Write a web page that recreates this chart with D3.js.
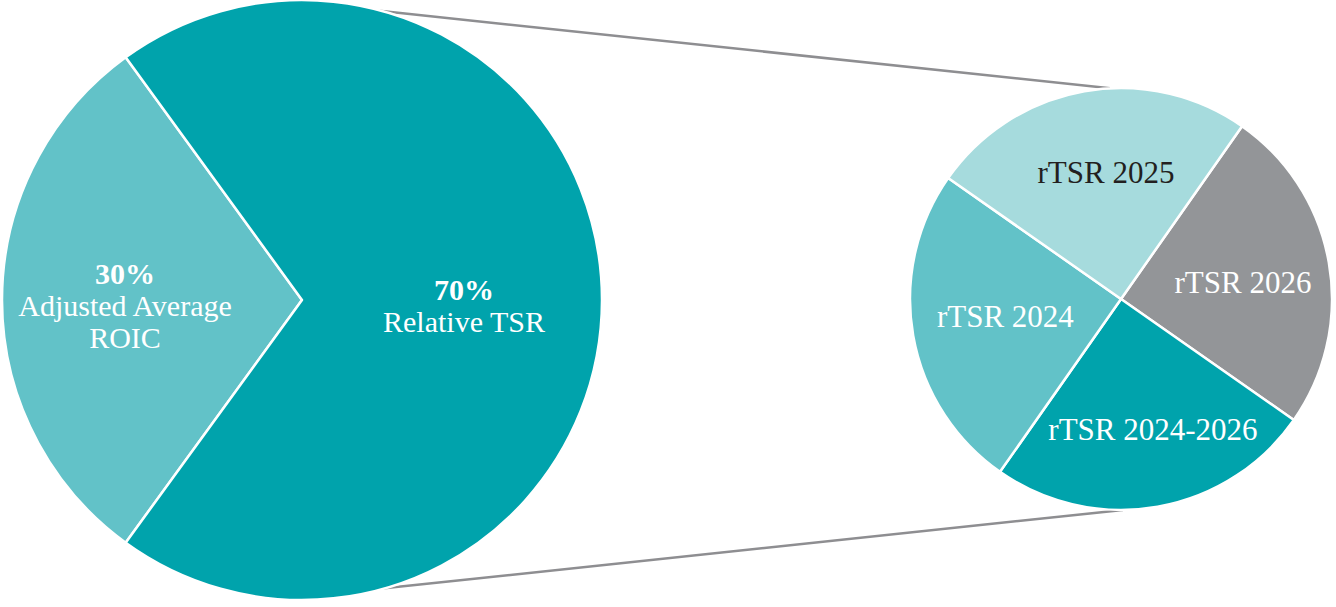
<!DOCTYPE html>
<html>
<head>
<meta charset="utf-8">
<script src="https://cdn.jsdelivr.net/npm/d3@7"></script>
<style>
  html, body { margin: 0; padding: 0; background: #fff; }
  svg { display: block; }
  text { font-family: "Liberation Serif", "DejaVu Serif", serif; }
</style>
</head>
<body>
<svg id="chart" width="1336" height="607"></svg>
<script>
// ---- Data ----
const mainCategories = ["Adjusted Average ROIC", "Relative TSR"];
const mainValues = [30, 70];
const mainLabelLines = [["30%", "Adjusted Average", "ROIC"], ["70%", "Relative TSR"]];

const subCategories = ["rTSR 2026", "rTSR 2024-2026", "rTSR 2024", "rTSR 2025"];
const subValues = [25, 25, 25, 25];

// ---- Styles ----
const mainColors = ["#62c2c8", "#00a3ac"];
const subColors = ["#939598", "#00a3ac", "#62c2c8", "#a6dbdd"];
const subTextColors = ["#ffffff", "#ffffff", "#ffffff", "#231f20"];

const svg = d3.select("#chart");
const deg = Math.PI / 180;

const big = { cx: 302, cy: 300, r: 300 };
const small = { cx: 1121, cy: 299, r: 211 };

function pt(c, angleDeg, r) {
  const a = angleDeg * deg;
  return [c.cx + Math.sin(a) * r, c.cy - Math.cos(a) * r];
}
const connectors = [
  [pt(big, 14.5, big.r - 1), pt(small, -3, small.r)],
  [pt(big, 165, big.r - 1), pt(small, 179.5, small.r)]
];
svg.append("g").selectAll("line").data(connectors).join("line")
  .attr("x1", d => d[0][0]).attr("y1", d => d[0][1])
  .attr("x2", d => d[1][0]).attr("y2", d => d[1][1])
  .attr("stroke", "#8e8e91").attr("stroke-width", 2.5);

// Big pie
const bigStart = -90 * deg - (mainValues[0] / 100) * Math.PI;
const bigPie = d3.pie().sort(null).startAngle(bigStart).endAngle(bigStart + 2 * Math.PI);
const bigArc = d3.arc().innerRadius(0).outerRadius(big.r);
const bigG = svg.append("g").attr("transform", `translate(${big.cx},${big.cy})`);
const bigArcs = bigPie(mainValues);
bigG.selectAll("path").data(bigArcs).join("path")
  .attr("d", bigArc)
  .attr("fill", (d, i) => mainColors[i])
  .attr("stroke", "#ffffff").attr("stroke-width", 2.5).attr("stroke-linejoin", "round");

const bigLabelRadius = [177, 162];
bigArcs.forEach((d, i) => {
  const a = (d.startAngle + d.endAngle) / 2;
  const x = Math.sin(a) * bigLabelRadius[i];
  const lines = mainLabelLines[i];
  const firstBaseline = i === 0 ? -16 : 0;
  const t = bigG.append("text")
    .attr("text-anchor", "middle")
    .attr("fill", "#ffffff")
    .attr("font-size", 30);
  lines.forEach((ln, j) => {
    t.append("tspan")
      .attr("x", x)
      .attr("y", firstBaseline + j * 32)
      .attr("font-weight", j === 0 ? "bold" : "normal")
      .text(ln);
  });
});

// Small pie
const subStart = 35 * deg;
const subPie = d3.pie().sort(null).startAngle(subStart).endAngle(subStart + 2 * Math.PI);
const subArc = d3.arc().innerRadius(0).outerRadius(small.r);
const subG = svg.append("g").attr("transform", `translate(${small.cx},${small.cy})`);
const subArcs = subPie(subValues);
subG.selectAll("path").data(subArcs).join("path")
  .attr("d", subArc)
  .attr("fill", (d, i) => subColors[i])
  .attr("stroke", "#ffffff").attr("stroke-width", 2.5).attr("stroke-linejoin", "round");

const subLabelRadius = [123, 135, 117, 127];
const subLabelAngleShift = [2.5, -3.7, 1.2, 3.2];
subG.selectAll("text").data(subArcs).join("text")
  .attr("transform", (d, i) => {
    const a = (d.startAngle + d.endAngle) / 2 + subLabelAngleShift[i] * deg;
    const r = subLabelRadius[i];
    return `translate(${Math.sin(a) * r},${-Math.cos(a) * r})`;
  })
  .attr("text-anchor", "middle")
  .attr("dy", 10)
  .attr("font-size", 31)
  .attr("fill", (d, i) => subTextColors[i])
  .text((d, i) => subCategories[i]);
</script>
</body>
</html>
